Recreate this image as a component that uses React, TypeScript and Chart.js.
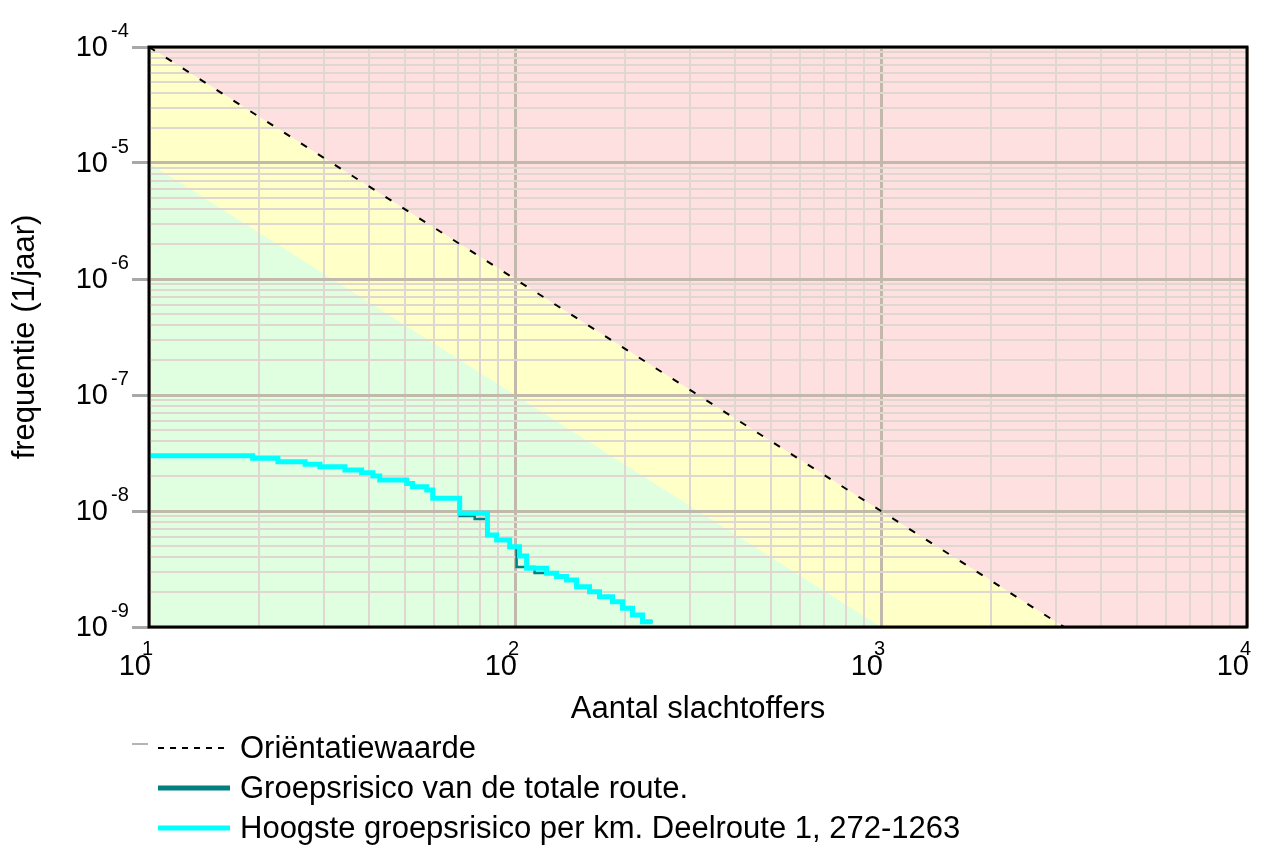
import React, { useEffect, useRef } from 'react';
import { Chart, registerables } from 'chart.js';
Chart.register(...registerables);

const W = 1282;
const H = 859;
const FONT = '"Liberation Sans", Arial, sans-serif';

// Axis ranges
const xMin = 10;
const xMax = 10000;
const yMin = 1e-9;
const yMax = 1e-4;

// Tick labels (base 10 with exponent)
const xTickBase = ['10', '10', '10', '10'];
const xTickExp = ['1', '2', '3', '4'];
const xTickValues = [10, 100, 1000, 10000];
const yTickBase = ['10', '10', '10', '10', '10', '10'];
const yTickExp = ['-4', '-5', '-6', '-7', '-8', '-9'];
const yTickValues = [1e-4, 1e-5, 1e-6, 1e-7, 1e-8, 1e-9];

// Series labels
const seriesLabels = [
  'Oriëntatiewaarde',
  'Groepsrisico van de totale route.',
  'Hoogste groepsrisico per km. Deelroute 1, 272-1263',
];
const xTitle = 'Aantal slachtoffers';
const yTitle = 'frequentie (1/jaar)';

// Oriëntatiewaarde line
const orientN = [10, 100, 1000, 3162.28];
const orientF = [1e-4, 1e-6, 1e-8, 1e-9];

// Boundary of the green zone
const greenN = [10, 100, 1000];
const greenF = [1e-5, 1e-7, 1e-9];

// Hoogste groepsrisico per km (cyan)
const hoogsteN = [10, 19.2, 22.5, 26.7, 29.3, 34.3, 38.1, 40.9, 42.7, 50.6, 52.5, 57.4, 59.6, 70.6, 84.1, 89.1, 96.7, 102.9, 107.6, 122, 129.9, 138.3, 147.3, 159.8, 170.2, 184.7, 196.7, 209.4, 223, 237.5];
const hoogsteF = [3.0e-8, 2.85e-8, 2.66e-8, 2.53e-8, 2.41e-8, 2.26e-8, 2.14e-8, 2.0e-8, 1.85e-8, 1.73e-8, 1.62e-8, 1.52e-8, 1.29e-8, 9.55e-9, 6.21e-9, 5.62e-9, 4.92e-9, 4.09e-9, 3.21e-9, 2.9e-9, 2.72e-9, 2.54e-9, 2.22e-9, 2.01e-9, 1.82e-9, 1.65e-9, 1.45e-9, 1.27e-9, 1.11e-9, 1.11e-9];

// Groepsrisico van de totale route (teal)
const totaleN = [10, 19.2, 22.5, 26.7, 29.3, 34.3, 38.1, 40.9, 42.7, 50.6, 52.5, 57.4, 59.6, 70.6, 77.6, 84.1, 89.1, 96.7, 101, 113.1, 122, 129.9, 138.3, 147.3, 159.8, 170.2, 184.7, 196.7, 209.4, 223, 237.5];
const totaleF = [3.0e-8, 2.85e-8, 2.66e-8, 2.53e-8, 2.41e-8, 2.26e-8, 2.14e-8, 2.0e-8, 1.85e-8, 1.73e-8, 1.62e-8, 1.52e-8, 1.29e-8, 9.06e-9, 8.53e-9, 6.21e-9, 5.62e-9, 4.92e-9, 3.29e-9, 2.92e-9, 2.9e-9, 2.72e-9, 2.54e-9, 2.22e-9, 2.01e-9, 1.82e-9, 1.65e-9, 1.45e-9, 1.27e-9, 1.11e-9, 1.11e-9];

const COLORS = {
  red: '#ffe0e0',
  yellow: '#ffffc8',
  green: '#e0ffe0',
  gridMinor: '#e0d8d0',
  gridMajor: '#c2b8ac',
  tick: '#a8a8a8',
  teal: '#008080',
  cyan: '#00ffff',
};

const TEXT_SIZE = 31;
const TICK_SIZE = 29;
const EXP_SIZE = 20;

const pts = (xs: number[], ys: number[]) => xs.map((x, i) => ({ x, y: ys[i] }));

function logTicks(min: number, max: number) {
  const out: number[] = [];
  const e0 = Math.floor(Math.log10(min));
  const e1 = Math.ceil(Math.log10(max));
  for (let e = e0; e <= e1; e++) {
    for (let m = 1; m < 10; m++) {
      const v = parseFloat((m * Math.pow(10, e)).toPrecision(6));
      if (v >= min * 0.9999 && v <= max * 1.0001) out.push(v);
    }
  }
  return out;
}
const isMajor = (v: number) => Math.abs(Math.log10(v) - Math.round(Math.log10(v))) < 1e-6;

const labelsPlugin = {
  id: 'labelsPlugin',
  afterDraw(chart: any) {
    const { ctx, chartArea: a, scales } = chart;
    ctx.save();
    // frame
    ctx.strokeStyle = '#000';
    ctx.lineWidth = 3;
    ctx.strokeRect(a.left, a.top, a.right - a.left, a.bottom - a.top);
    ctx.fillStyle = '#000';
    // y tick labels
    yTickValues.forEach((v, i) => {
      const py = scales.y.getPixelForValue(v);
      ctx.font = `${TICK_SIZE}px ${FONT}`;
      ctx.textAlign = 'right';
      ctx.textBaseline = 'middle';
      ctx.fillText(yTickBase[i], 108, py + 1);
      ctx.font = `${EXP_SIZE}px ${FONT}`;
      ctx.textAlign = 'left';
      ctx.fillText(yTickExp[i], 111, py - 16);
    });
    // x tick labels
    xTickValues.forEach((v, i) => {
      const px = scales.x.getPixelForValue(v);
      ctx.font = `${TICK_SIZE}px ${FONT}`;
      ctx.textAlign = 'right';
      ctx.textBaseline = 'middle';
      ctx.fillText(xTickBase[i], px + 2, 667);
      ctx.font = `${EXP_SIZE}px ${FONT}`;
      ctx.textAlign = 'left';
      ctx.fillText(xTickExp[i], px - 7, 649);
    });
    // legend
    const rows = [
      { label: seriesLabels[0], color: '#000', width: 2, dash: [6, 6] },
      { label: seriesLabels[1], color: COLORS.teal, width: 5, dash: [] as number[] },
      { label: seriesLabels[2], color: COLORS.cyan, width: 5, dash: [] as number[] },
    ];
    const rowY = [748, 788, 828];
    // small grey marker on first row
    ctx.strokeStyle = '#b4b4b4';
    ctx.lineWidth = 2;
    ctx.setLineDash([]);
    ctx.beginPath();
    ctx.moveTo(132, 744);
    ctx.lineTo(148, 744);
    ctx.stroke();
    rows.forEach((r, i) => {
      ctx.strokeStyle = r.color;
      ctx.lineWidth = r.width;
      ctx.setLineDash(r.dash);
      ctx.beginPath();
      ctx.moveTo(158, rowY[i]);
      ctx.lineTo(230, rowY[i]);
      ctx.stroke();
      ctx.setLineDash([]);
      ctx.fillStyle = '#000';
      ctx.font = `${TEXT_SIZE}px ${FONT}`;
      ctx.textAlign = 'left';
      ctx.textBaseline = 'middle';
      ctx.fillText(r.label, 240, rowY[i] + 1);
    });
    ctx.restore();
  },
};

export default function App() {
  const ref = useRef<HTMLCanvasElement>(null);
  useEffect(() => {
    document.body.style.margin = '0';
    document.body.style.overflow = 'hidden';
    Chart.defaults.font.family = FONT;
    const gridColor = (c: any) => (c.tick && isMajor(c.tick.value) ? COLORS.gridMajor : COLORS.gridMinor);
    const gridWidth = (c: any) => (c.tick && isMajor(c.tick.value) ? 3 : 2);
    const chart = new Chart(ref.current as HTMLCanvasElement, {
      type: 'line',
      data: {
        datasets: [
          {
            label: seriesLabels[2],
            data: pts(hoogsteN, hoogsteF),
            borderColor: COLORS.cyan,
            borderWidth: 5,
            stepped: true,
            pointRadius: 0,
            fill: false,
          },
          {
            label: seriesLabels[1],
            data: pts(totaleN, totaleF),
            borderColor: COLORS.teal,
            borderWidth: 2.5,
            stepped: true,
            pointRadius: 0,
            fill: false,
          },
          {
            label: seriesLabels[0],
            data: pts(orientN, orientF),
            borderColor: '#000',
            borderWidth: 2,
            borderDash: [7, 13],
            pointRadius: 0,
            fill: false,
          },
          {
            label: 'groen',
            data: pts(greenN, greenF),
            borderColor: 'transparent',
            borderWidth: 0,
            backgroundColor: COLORS.green,
            pointRadius: 0,
            fill: 'start',
          },
          {
            label: 'geel',
            data: pts(orientN, orientF),
            borderColor: 'transparent',
            borderWidth: 0,
            backgroundColor: COLORS.yellow,
            pointRadius: 0,
            fill: 'start',
          },
          {
            label: 'rood',
            data: pts([...orientN, xMax], [...orientF, yMin]),
            borderColor: 'transparent',
            borderWidth: 0,
            backgroundColor: COLORS.red,
            pointRadius: 0,
            fill: 'end',
          },
        ],
      } as any,
      options: {
        responsive: false,
        animation: false,
        devicePixelRatio: 1,
        layout: { padding: { top: 47, right: 35, left: 0, bottom: 0 } },
        plugins: {
          legend: { display: false },
          tooltip: { enabled: false },
          filler: { drawTime: 'beforeDraw' },
        } as any,
        scales: {
          x: {
            type: 'logarithmic',
            min: xMin,
            max: xMax,
            afterBuildTicks: (s: any) => {
              s.ticks = logTicks(xMin, xMax).map((v) => ({ value: v, major: isMajor(v) }));
            },
            afterFit: (s: any) => {
              s.height = 232;
            },
            ticks: { display: false },
            border: { display: false },
            grid: { color: gridColor, lineWidth: gridWidth, drawTicks: false },
            title: {
              display: true,
              text: xTitle,
              color: '#000',
              font: { size: TEXT_SIZE, family: FONT },
              padding: { top: 0, bottom: 131 },
            },
          },
          y: {
            type: 'logarithmic',
            min: yMin,
            max: yMax,
            afterBuildTicks: (s: any) => {
              s.ticks = logTicks(yMin, yMax).map((v) => ({ value: v, major: isMajor(v) }));
            },
            afterFit: (s: any) => {
              s.width = 149;
            },
            ticks: { display: false },
            border: { display: false },
            grid: {
              color: gridColor,
              lineWidth: gridWidth,
              drawTicks: true,
              tickLength: 17,
              tickWidth: 3,
              tickColor: (c: any) => (c.tick && isMajor(c.tick.value) ? COLORS.tick : 'transparent'),
            },
            title: {
              display: true,
              text: yTitle,
              color: '#000',
              font: { size: TEXT_SIZE, family: FONT },
              padding: { top: 7, bottom: 0 },
            },
          },
        } as any,
      },
      plugins: [labelsPlugin],
    });
    return () => chart.destroy();
  }, []);
  return (
    <div style={{ position: 'relative', width: W, height: H }}>
      <canvas ref={ref} width={W} height={H} style={{ display: 'block', width: W, height: H }} />
    </div>
  );
}
